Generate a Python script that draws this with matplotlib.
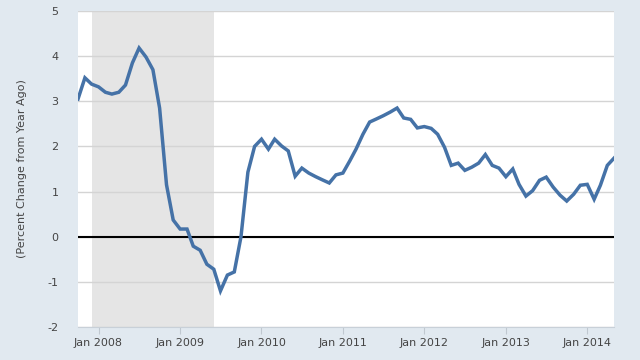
import matplotlib
matplotlib.use("Agg")
import matplotlib.pyplot as plt
import matplotlib.dates as mdates
import pandas as pd

# monthly observations, Oct 2007 - May 2014
start_month = "2007-10-01"
values = [3.05, 3.52, 3.38, 3.32, 3.20, 3.16, 3.20, 3.36, 3.85, 4.18,
          3.98, 3.70, 2.85, 1.15, 0.37, 0.17, 0.17, -0.21, -0.30, -0.61,
          -0.72, -1.20, -0.85, -0.78, 0.00, 1.43, 2.00, 2.16, 1.94, 2.16,
          2.01, 1.90, 1.34, 1.52, 1.41, 1.33, 1.26, 1.19, 1.37, 1.41,
          1.68, 1.94, 2.27, 2.54, 2.61, 2.68, 2.76, 2.85, 2.63, 2.60,
          2.41, 2.44, 2.40, 2.27, 1.98, 1.58, 1.63, 1.47, 1.54, 1.63,
          1.82, 1.58, 1.52, 1.33, 1.50, 1.16, 0.90, 1.02, 1.25, 1.32,
          1.10, 0.92, 0.79, 0.94, 1.14, 1.16, 0.83, 1.14, 1.58, 1.74]
recession = ("2007-12-01", "2009-06-01")
yticks = [-2, -1, 0, 1, 2, 3, 4, 5]
ylabel = "(Percent Change from Year Ago)"

dates = pd.date_range(start_month, periods=len(values), freq="MS")

bg = "#e1e9f0"
fig = plt.figure(figsize=(6.4, 3.6), dpi=100, facecolor=bg)
ax = fig.add_axes([78 / 640, 33 / 360, 536 / 640, 316 / 360])
ax.set_facecolor("white")

ax.axvspan(pd.Timestamp(recession[0]), pd.Timestamp(recession[1]),
           color="#e5e5e5", zorder=0, lw=0)
for y in yticks:
    ax.axhline(y, color="#d4d4d4", lw=1, zorder=1)
ax.axhline(0, color="black", lw=1.5, zorder=2)

ax.plot(dates, values, color="#4572a7", lw=2.5, zorder=3,
        solid_joinstyle="miter")

ax.set_xlim(dates[0], dates[-1])
ax.set_ylim(-2, 5)
ax.set_yticks(yticks)
ax.set_yticklabels([str(v) for v in yticks])

ax.xaxis.set_major_locator(mdates.YearLocator(1, month=1, day=1))
ax.xaxis.set_major_formatter(mdates.DateFormatter("Jan %Y"))

for s in ["top", "right", "left"]:
    ax.spines[s].set_visible(False)
ax.spines["bottom"].set_color("#c8d0d8")
ax.tick_params(axis="x", length=5, color="#c0c8d0", labelsize=8,
               labelcolor="#444444", pad=3)
ax.tick_params(axis="y", length=0, labelsize=8, labelcolor="#444444", pad=14)

ax.set_ylabel(ylabel, fontsize=8, color="#444444", labelpad=15)

fig.savefig("out.png", dpi=100, facecolor=bg)
